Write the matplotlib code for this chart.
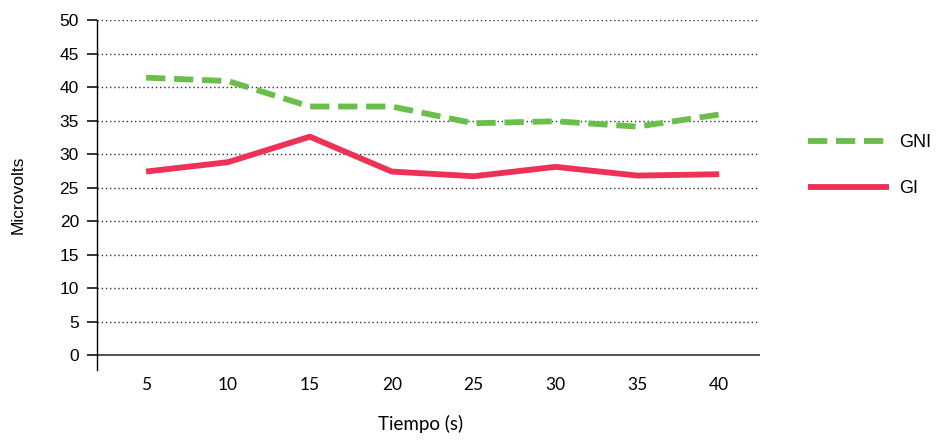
import matplotlib.pyplot as plt

# data
tiempo = ["5", "10", "15", "20", "25", "30", "35", "40"]
gni = [41.4, 40.9, 37.1, 37.1, 34.6, 34.9, 34.1, 35.9]
gi = [27.4, 28.8, 32.6, 27.4, 26.7, 28.1, 26.8, 27.0]
y_ticks = [0, 5, 10, 15, 20, 25, 30, 35, 40, 45, 50]

green = "#6abf4b"
red = "#ee3157"

fig = plt.figure(figsize=(9.38, 4.41), dpi=100)
ax = fig.add_axes([0.1034, 0.161, 0.707, 0.7936])

x = range(len(tiempo))
ax.plot(x, gni, color=green, lw=4.2, ls=(0, (3.3, 1.5)), label="GNI", solid_capstyle="butt")
ax.plot(x, gi, color=red, lw=4.2, label="GI", solid_capstyle="butt")

ax.set_xlim(-0.6, 7.5)
ax.set_ylim(-2.2, 50)
ax.set_yticks(y_ticks)
ax.set_xticks(list(x))
ax.set_xticklabels(tiempo, fontfamily="Lato", fontsize=12.5)
for lab in ax.get_yticklabels():
    lab.set_fontfamily("Liberation Sans")
    lab.set_fontsize(12.5)

# dotted grid, solid zero line
for v in y_ticks[1:]:
    ax.axhline(v, color="#333333", lw=1.0, ls=(0, (1, 2)), zorder=0)
ax.axhline(0, color="#333333", lw=1.2, zorder=1)

for s in ["top", "right", "bottom"]:
    ax.spines[s].set_visible(False)
ax.spines["left"].set_linewidth(1.0)
ax.tick_params(axis="y", direction="out", length=7, width=1.4, color="#333333", pad=6)
ax.tick_params(axis="x", length=0, pad=5)

ax.set_ylabel("Microvolts", fontfamily="Liberation Sans", fontsize=12.5, labelpad=24)
fig.text(0.448, 0.025, "Tiempo (s)", fontfamily="Lato", fontsize=13.5, ha="center")

ax.legend(loc="center left", bbox_to_anchor=(1.047, 0.584), frameon=False,
          handlelength=4.5, labelspacing=1.6, handletextpad=0.55,
          prop={"family": "Liberation Sans", "size": 13})

fig.savefig("out.png", dpi=100)
